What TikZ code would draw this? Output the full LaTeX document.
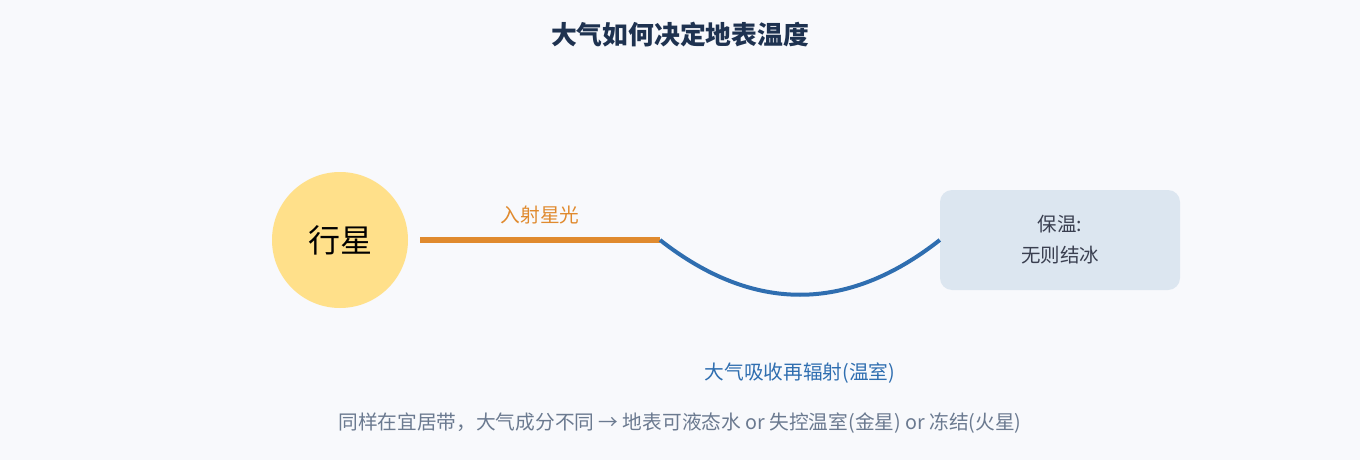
\documentclass[tikz,border=0pt]{standalone}
\usepackage{fontspec}
\setmainfont{Noto Sans CJK SC}
\usepackage{xcolor}
\usetikzlibrary{positioning, calc}

\definecolor{bgcol}{HTML}{F8F9FC}
\definecolor{titlecol}{HTML}{1E3250}
\definecolor{planetcol}{HTML}{FFE08A}
\definecolor{lightcol}{HTML}{E08A2E}
\definecolor{atmocol}{HTML}{2F6EB0}
\definecolor{boxcol}{HTML}{DCE6F0}
\definecolor{boxtext}{HTML}{3A3F50}
\definecolor{notecol}{HTML}{6B7A90}

\tikzset{
  planet/.style={circle, fill=planetcol, minimum size=136pt, inner sep=0pt, font=\fontsize{32}{38}\selectfont},
  resultbox/.style={rectangle, rounded corners=12pt, fill=boxcol, minimum width=240pt, minimum height=100pt, inner sep=0pt, text=boxtext, align=center, font=\fontsize{19.5}{31}\selectfont},
  starlight/.style={draw=lightcol, line width=6pt},
  atmoline/.style={draw=atmocol, line width=4pt},
  lbl/.style={font=\fontsize{19.7}{24}\selectfont}
}

\begin{document}
\begin{tikzpicture}[x=1pt, y=-1pt]
    \fill[bgcol] (0,0) rectangle (1360,460);
    \useasboundingbox (0,0) rectangle (1360,460);

    \def\midy{240}

    \node[text=titlecol, font=\fontsize{25.8}{30}\selectfont\bfseries] (title) at (680,35) {大气如何决定地表温度};

    \node[planet] (planet) at (340,\midy) {行星};
    \coordinate (lightend) at (660,\midy);
    \node[resultbox] (warm) at (1060,\midy) {保温:\\无则结冰};

    \draw[starlight] ([xshift=12pt]planet.east) -- (lightend)
        node[midway, above=10pt, lbl, text=lightcol] (lightlbl) {入射星光};
    \draw[atmoline] (lightend) .. controls (753,313) and (847,313) .. (warm.west);

    \node[lbl, text=atmocol] (atmolbl) at (800,373) {大气吸收再辐射(温室)};

    \node[lbl, text=notecol] (note) at (680,423) {同样在宜居带，大气成分不同 → 地表可液态水 or 失控温室(金星) or 冻结(火星)};
\end{tikzpicture}
\end{document}
